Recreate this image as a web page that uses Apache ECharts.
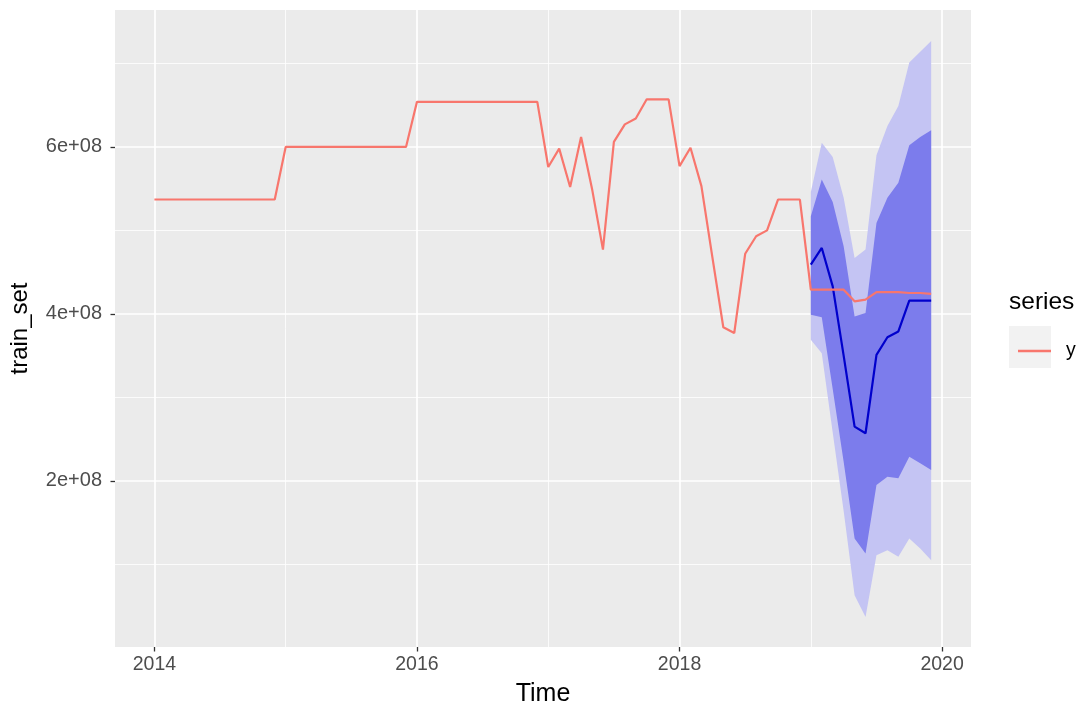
<!DOCTYPE html>
<html>
<head>
<meta charset="utf-8">
<script src="https://cdn.jsdelivr.net/npm/echarts@6/dist/echarts.min.js"></script>
<style>
  html, body { margin: 0; padding: 0; background: #fff; }
  #chart { width: 1082px; height: 707px; }
</style>
</head>
<body>
<div id="chart"></div>
<script>
// monthly observations, 2014-01 .. 2019-12
var actual = [
  5.37e8, 5.37e8, 5.37e8, 5.37e8, 5.37e8, 5.37e8, 5.37e8, 5.37e8, 5.37e8, 5.37e8, 5.37e8, 5.37e8,
  6.00e8, 6.00e8, 6.00e8, 6.00e8, 6.00e8, 6.00e8, 6.00e8, 6.00e8, 6.00e8, 6.00e8, 6.00e8, 6.00e8,
  6.54e8, 6.54e8, 6.54e8, 6.54e8, 6.54e8, 6.54e8, 6.54e8, 6.54e8, 6.54e8, 6.54e8, 6.54e8, 6.54e8,
  5.76e8, 5.98e8, 5.52e8, 6.12e8, 5.50e8, 4.77e8, 6.06e8, 6.27e8, 6.34e8, 6.57e8, 6.57e8, 6.57e8,
  5.77e8, 5.99e8, 5.53e8, 4.68e8, 3.84e8, 3.77e8, 4.72e8, 4.93e8, 5.00e8, 5.37e8, 5.37e8, 5.37e8,
  4.29e8, 4.29e8, 4.29e8, 4.29e8, 4.15e8, 4.17e8, 4.26e8, 4.26e8, 4.26e8, 4.25e8, 4.25e8, 4.24e8
];
var startYear = 2014;

// forecast 2019-01 .. 2019-12
var fcStart = 2019;
var fcMean = [4.59e8, 4.79e8, 4.33e8, 3.50e8, 2.65e8, 2.57e8, 3.51e8, 3.72e8, 3.79e8, 4.16e8, 4.16e8, 4.16e8];
var lo80 = [3.99e8, 3.96e8, 3.10e8, 2.23e8, 1.31e8, 1.13e8, 1.95e8, 2.05e8, 2.03e8, 2.29e8, 2.21e8, 2.13e8];
var hi80 = [5.17e8, 5.61e8, 5.34e8, 4.81e8, 3.97e8, 4.01e8, 5.09e8, 5.39e8, 5.57e8, 6.02e8, 6.12e8, 6.20e8];
var lo95 = [3.69e8, 3.53e8, 2.58e8, 1.64e8, 0.63e8, 0.37e8, 1.11e8, 1.17e8, 1.09e8, 1.31e8, 1.19e8, 1.05e8];
var hi95 = [5.46e8, 6.05e8, 5.88e8, 5.39e8, 4.67e8, 4.77e8, 5.90e8, 6.25e8, 6.49e8, 7.01e8, 7.14e8, 7.27e8];

var xMajor = [2014, 2016, 2018, 2020];
var xMinor = [2015, 2017, 2019];
var yMajor = [2e8, 4e8, 6e8];
var yMinor = [1e8, 3e8, 5e8, 7e8];

function pts(arr, start) {
  return arr.map(function (v, i) { return [start + i / 12, v]; });
}

var xMin = 2013.70, xMax = 2020.22;
var yMin = 0.01e8, yMax = 7.64e8;
var FONT = 'Liberation Sans, Arial, sans-serif';

var myChart = echarts.init(document.getElementById('chart'));

function minorAxis(min, max, values) {
  return {
    type: 'value', min: min, max: max,
    axisLine: { show: false },
    axisTick: { show: false, customValues: values },
    axisLabel: { show: false, customValues: values },
    splitLine: { show: true, lineStyle: { color: '#ffffff', width: 0.8 } }
  };
}

// filled ribbon between two bounds, placed through the axes
function band(lower, upper, color) {
  return {
    type: 'custom',
    silent: true,
    z: 2,
    data: [0],
    renderItem: function (params, api) {
      var top = upper.map(function (v, i) { return api.coord([fcStart + i / 12, v]); });
      var bot = lower.map(function (v, i) { return api.coord([fcStart + i / 12, v]); }).reverse();
      return { type: 'polygon', shape: { points: top.concat(bot) }, style: { fill: color } };
    }
  };
}

option = {
  backgroundColor: '#ffffff',
  animation: false,
  textStyle: { fontFamily: FONT },
  grid: {
    left: 115, right: 111, top: 10, bottom: 60,
    outerBoundsMode: 'none', containLabel: false,
    show: true, backgroundColor: '#EBEBEB', borderWidth: 0
  },
  xAxis: [
    {
      type: 'value', min: xMin, max: xMax,
      name: 'Time', nameLocation: 'middle', nameGap: 35,
      nameTextStyle: { color: '#000', fontSize: 25 },
      axisLine: { show: false },
      axisTick: { show: true, customValues: xMajor, length: 4.5, lineStyle: { color: '#333333', width: 1.3 } },
      axisLabel: { customValues: xMajor, color: '#4D4D4D', fontSize: 19.5, margin: 8,
        formatter: function (v) { return String(Math.round(v)); } },
      splitLine: { show: true, lineStyle: { color: '#ffffff', width: 1.7 } }
    },
    minorAxis(xMin, xMax, xMinor)
  ],
  yAxis: [
    {
      type: 'value', min: yMin, max: yMax,
      name: 'train_set', nameLocation: 'middle', nameGap: 83, nameRotate: 90,
      nameTextStyle: { color: '#000', fontSize: 24 },
      axisLine: { show: false },
      axisTick: { show: true, customValues: yMajor, length: 4.5, lineStyle: { color: '#333333', width: 1.3 } },
      axisLabel: { customValues: yMajor, color: '#4D4D4D', fontSize: 20, margin: 13,
        formatter: function (v) { return Math.round(v / 1e8) + 'e+08'; } },
      splitLine: { show: true, lineStyle: { color: '#ffffff', width: 1.7 } }
    },
    minorAxis(yMin, yMax, yMinor)
  ],
  legend: {
    data: [{ name: 'y', icon: 'rect' }],
    left: 1013, top: 336,
    itemWidth: 33, itemHeight: 2.5,
    itemGap: 0,
    textStyle: { color: '#000', fontSize: 19.5, padding: [0, 0, 0, 10] }
  },
  graphic: [
    { type: 'text', left: 1009, top: 290, style: { text: 'series', fontSize: 24.5, fill: '#000', fontFamily: FONT } },
    { type: 'rect', left: 1009, top: 326, z: -1, shape: { width: 42, height: 42 }, style: { fill: '#F2F2F2' } }
  ],
  series: [
    band(lo95, hi95, '#C4C4F3'),
    band(lo80, hi80, '#7C7CEC'),
    {
      name: 'forecast', type: 'line', data: pts(fcMean, fcStart), symbol: 'none',
      lineStyle: { color: '#0000CC', width: 2.2 }, z: 3
    },
    {
      name: 'y', type: 'line', data: pts(actual, startYear), symbol: 'none',
      itemStyle: { color: '#F8766D' },
      lineStyle: { color: '#F8766D', width: 2.2 }, z: 4
    }
  ]
};
myChart.setOption(option);
</script>
</body>
</html>
